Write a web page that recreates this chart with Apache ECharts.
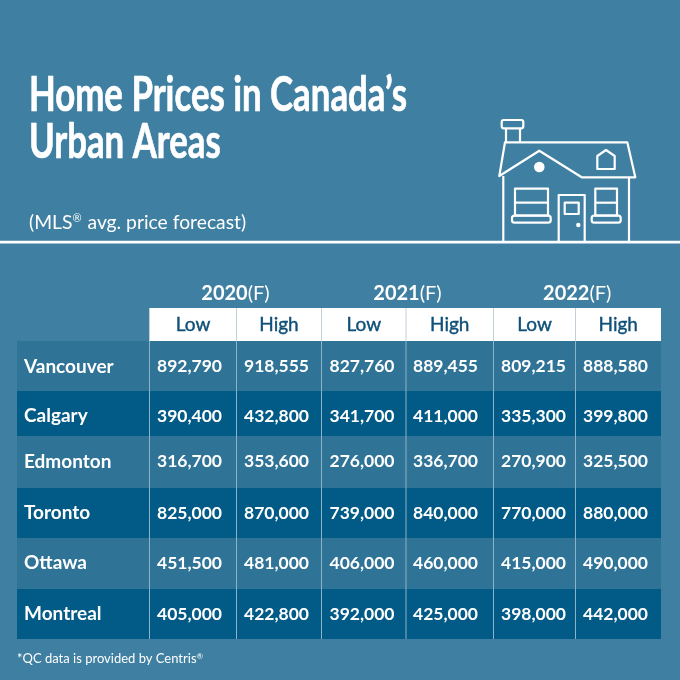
<!DOCTYPE html>
<html>
<head>
<meta charset="utf-8">
<style>
  html, body { margin: 0; padding: 0; }
  #chart { width: 680px; height: 680px; }
</style>
<script src="https://cdn.jsdelivr.net/npm/echarts@6/dist/echarts.min.js"></script>
</head>
<body>
<div id="chart"></div>
<script>
// table content
var cities = ['Vancouver', 'Calgary', 'Edmonton', 'Toronto', 'Ottawa', 'Montreal'];
var years = ['2020', '2021', '2022'];
var bands = ['Low', 'High', 'Low', 'High', 'Low', 'High'];
var low2020 = [892790, 390400, 316700, 825000, 451500, 405000];
var high2020 = [918555, 432800, 353600, 870000, 481000, 422800];
var low2021 = [827760, 341700, 276000, 739000, 406000, 392000];
var high2021 = [889455, 411000, 336700, 840000, 460000, 425000];
var low2022 = [809215, 335300, 270900, 770000, 415000, 398000];
var high2022 = [888580, 399800, 325500, 880000, 490000, 442000];
var columns = [low2020, high2020, low2021, high2021, low2022, high2022];

// table layout, in axis units (the axes run 0-680 over the whole page)
var tableLeft = 17;
var colEdges = [149.5, 236.5, 321.5, 406, 493.5, 575.5, 661];
var colText = [189.5, 276.5, 362, 445.5, 533.5, 615.5];
var rowEdges = [341, 391, 436, 488, 538, 589, 639];
var rowText = [366.5, 416, 461.5, 513, 563, 614];
var headerTop = 308;
var yearText = 293.5;
var nameX = 24;

var white = '#ffffff';
var pageBg = '#3f7fa1';
var rowLight = '#2f7397';
var rowDark = '#025a86';
var headText = '#0f5079';
var sepLight = '#8db3c8';
var sepHead = '#c3cfd8';
var font = 'Lato';

var chart = echarts.init(document.getElementById('chart'));

function rectFrom(api, x0, y0, x1, y1) {
  var a = api.coord([x0, y0]);
  var b = api.coord([x1, y1]);
  return { x: a[0], y: a[1], width: b[0] - a[0], height: b[1] - a[1] };
}

function renderRow(params, api) {
  var r = api.value(0);
  var a = api.coord([nameX, rowText[r]]);
  return {
    type: 'group',
    children: [
      {
        type: 'rect',
        shape: rectFrom(api, tableLeft, rowEdges[r], colEdges[6], rowEdges[r + 1]),
        style: { fill: r % 2 ? rowDark : rowLight }
      },
      {
        type: 'text',
        x: a[0], y: a[1],
        style: {
          text: cities[r], fill: white, font: 'bold 19px ' + font,
          align: 'left', verticalAlign: 'middle'
        }
      }
    ]
  };
}

function renderCell(params, api) {
  var c = api.value(0), r = api.value(1);
  var a = api.coord([colText[c], rowText[r]]);
  return {
    type: 'text',
    x: a[0], y: a[1],
    style: {
      text: api.value(2).toLocaleString('en-US'), fill: white, font: 'bold 17.5px ' + font,
      align: 'center', verticalAlign: 'middle'
    }
  };
}

function renderHeader(params, api) {
  var c = api.value(0);
  var a = api.coord([(colEdges[c] + colEdges[c + 1]) / 2, (headerTop + rowEdges[0]) / 2]);
  return {
    type: 'group',
    children: [
      {
        type: 'rect',
        shape: rectFrom(api, colEdges[c], headerTop, colEdges[c + 1], rowEdges[0]),
        style: { fill: white }
      },
      {
        type: 'text',
        x: a[0], y: a[1],
        style: {
          text: bands[c], fill: headText, font: '19px ' + font,
          stroke: headText, lineWidth: 0.4,
          align: 'center', verticalAlign: 'middle'
        }
      }
    ]
  };
}

function renderSeparator(params, api) {
  var x = colEdges[api.value(0)];
  var top = api.coord([x, headerTop]);
  var mid = api.coord([x, rowEdges[0]]);
  var end = api.coord([x, rowEdges[6]]);
  return {
    type: 'group',
    children: [
      {
        type: 'line',
        shape: { x1: top[0], y1: top[1], x2: mid[0], y2: mid[1] },
        style: { stroke: sepHead, lineWidth: 1 }
      },
      {
        type: 'line',
        shape: { x1: mid[0], y1: mid[1], x2: end[0], y2: end[1] },
        style: { stroke: sepLight, lineWidth: 1 }
      }
    ]
  };
}

function renderYear(params, api) {
  var y = api.value(0);
  var a = api.coord([(colEdges[y * 2] + colEdges[y * 2 + 2]) / 2, yearText]);
  return {
    type: 'text',
    x: a[0], y: a[1],
    style: {
      text: '{b|' + years[y] + '}{r|(F)}', fill: white,
      align: 'center', verticalAlign: 'middle',
      rich: {
        b: { font: 'bold 20px ' + font, fill: white },
        r: { font: '20px ' + font, fill: white }
      }
    }
  };
}

var cellData = [];
columns.forEach(function (col, c) {
  col.forEach(function (v, r) {
    cellData.push([c, r, v]);
  });
});

function customSeries(renderItem, data) {
  return {
    type: 'custom',
    coordinateSystem: 'cartesian2d',
    renderItem: renderItem,
    data: data,
    silent: true,
    clip: false,
    animation: false
  };
}

// house icon pieces
var houseLine = { stroke: white, lineWidth: 2.2, fill: 'none', lineJoin: 'round' };
function outline(x, y, w, h, r) {
  return { type: 'rect', shape: { x: x, y: y, width: w, height: h, r: r || 0 }, style: houseLine };
}
function poly(type, pts) {
  return { type: type, shape: { points: pts }, style: houseLine };
}
function titleLine(text, y) {
  return {
    type: 'text', x: 29, y: y, scaleX: 0.74,
    style: {
      text: text, fill: white, font: 'bold 47px ' + font,
      stroke: white, lineWidth: 0.7,
      textAlign: 'left', textVerticalAlign: 'bottom'
    }
  };
}

var option = {
  backgroundColor: pageBg,
  animation: false,
  textStyle: { fontFamily: font },
  title: [
    {
      text: '(MLS{s|\u00ae} avg. price forecast)',
      left: 29, top: 213, padding: 0,
      textStyle: {
        color: white, fontFamily: font, fontWeight: 'normal', fontSize: 19.3,
        rich: { s: { fontSize: 11, verticalAlign: 'top', color: white, padding: [0, 1, 6, 0] } }
      }
    },
    {
      text: '*QC data is provided by Centris{s|\u00ae}',
      left: 17, top: 652, padding: 0,
      textStyle: {
        color: white, fontFamily: font, fontWeight: 'normal', fontSize: 13,
        rich: { s: { fontSize: 8, verticalAlign: 'top', color: white, padding: [0, 0, 4, 0] } }
      }
    }
  ],
  grid: { left: 0, right: 0, top: 0, bottom: 0 },
  xAxis: { type: 'value', min: 0, max: 680, show: false },
  yAxis: { type: 'value', min: 0, max: 680, inverse: true, show: false },
  series: [
    customSeries(renderRow, cities.map(function (c, r) { return [r]; })),
    customSeries(renderHeader, bands.map(function (b, c) { return [c]; })),
    customSeries(renderSeparator, [0, 1, 2, 3, 4, 5].map(function (i) { return [i]; })),
    customSeries(renderCell, cellData),
    customSeries(renderYear, years.map(function (y, i) { return [i]; }))
  ],
  graphic: [
    titleLine('Home Prices in Canada\u2019s', 119),
    titleLine('Urban Areas', 166),
    { type: 'rect', shape: { x: 0, y: 240.8, width: 680, height: 2.6 }, style: { fill: white } },
    outline(501.7, 120, 21.6, 8.3, 2),
    poly('polyline', [[506, 128.3], [506, 142]]),
    poly('polyline', [[520, 128.3], [520, 142]]),
    poly('polygon', [[505, 142.3], [627.3, 142.3], [635.3, 177.3], [581.7, 177.3], [539.3, 150.7], [499.3, 176]]),
    poly('polyline', [[503.3, 176], [503.3, 242]]),
    poly('polyline', [[629, 177.3], [629, 242]]),
    poly('polygon', [[597.3, 169], [614.7, 169], [614.7, 156], [606, 150], [597.3, 156]]),
    outline(515, 188.7, 33, 26.8),
    poly('polyline', [[515, 202.7], [548, 202.7]]),
    outline(595.3, 188.7, 21.7, 26.8),
    poly('polyline', [[595.3, 202.7], [617, 202.7]]),
    outline(512, 215.7, 38.7, 7, 2.5),
    outline(591.7, 215.7, 29, 7, 2.5),
    poly('polyline', [[558.7, 242], [558.7, 195], [584.7, 195], [584.7, 242]]),
    outline(564.7, 202.7, 14, 11.3),
    { type: 'circle', shape: { cx: 539.3, cy: 167, r: 5.3 }, style: { fill: white } },
    { type: 'circle', shape: { cx: 578.3, cy: 225, r: 2.2 }, style: { fill: white } }
  ]
};

chart.setOption(option);
</script>
</body>
</html>
